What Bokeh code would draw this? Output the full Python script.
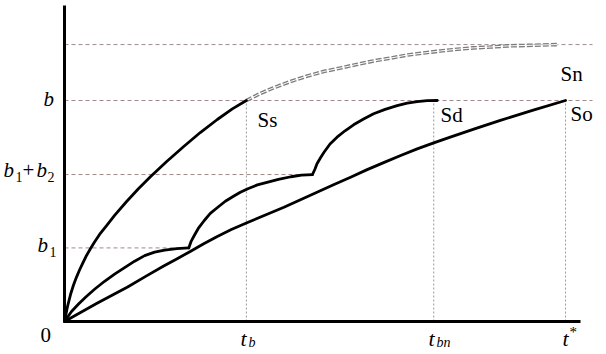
from bokeh.plotting import figure
from bokeh.models import Range1d
from bokeh.core.properties import value
from bokeh.embed import file_html
from bokeh.resources import INLINE

# ---- data (t in units of t*, S in units of b) ----
t_b, t_bn, t_star = 0.363, 0.737, 1.0
b1, b12, b, s_n = 0.333, 0.665, 1.0, 1.253

ss_t = [0, 0.006, 0.012, 0.018, 0.024, 0.030, 0.036, 0.044, 0.052, 0.060, 0.070, 0.084,
        0.100, 0.124, 0.148, 0.172, 0.204, 0.238, 0.271, 0.305, 0.335, 0.363]
ss_s = [0, 0.068, 0.122, 0.165, 0.201, 0.233, 0.262, 0.299, 0.330, 0.360, 0.394, 0.434,
        0.480, 0.543, 0.602, 0.656, 0.724, 0.792, 0.855, 0.914, 0.962, 1.0]

sd1_t = [0, 0.014, 0.028, 0.042, 0.060, 0.080, 0.100, 0.120, 0.140, 0.160, 0.180, 0.200, 0.224, 0.248]
sd1_s = [0, 0.045, 0.079, 0.110, 0.146, 0.182, 0.214, 0.244, 0.273, 0.298, 0.314, 0.323, 0.330, 0.333]
sd2_t = [0.248, 0.253, 0.259, 0.267, 0.279, 0.291, 0.306, 0.321, 0.339, 0.351, 0.366,
         0.385, 0.406, 0.427, 0.452, 0.473, 0.495]
sd2_s = [0.333, 0.364, 0.389, 0.421, 0.457, 0.489, 0.517, 0.544, 0.569, 0.585, 0.601,
         0.618, 0.631, 0.643, 0.655, 0.662, 0.665]
sd3_t = [0.495, 0.500, 0.504, 0.511, 0.518, 0.530, 0.544, 0.560, 0.577, 0.597, 0.617,
         0.640, 0.664, 0.684, 0.704, 0.724, 0.744]
sd3_s = [0.665, 0.690, 0.714, 0.741, 0.766, 0.803, 0.834, 0.863, 0.890, 0.916, 0.940,
         0.960, 0.977, 0.988, 0.995, 0.999, 1.0]

so_t = [0, 0.032, 0.064, 0.094, 0.126, 0.162, 0.198, 0.224, 0.251, 0.277, 0.305, 0.333,
        0.363, 0.401, 0.438, 0.471, 0.504, 0.537, 0.571, 0.603, 0.637, 0.671, 0.704,
        0.737, 0.770, 0.820, 0.870, 0.934, 1.0]
so_s = [0, 0.041, 0.081, 0.118, 0.156, 0.204, 0.251, 0.283, 0.317, 0.351, 0.385, 0.416,
        0.446, 0.482, 0.517, 0.551, 0.585, 0.619, 0.653, 0.686, 0.719, 0.751, 0.781,
        0.808, 0.834, 0.873, 0.910, 0.955, 1.0]

sn_t = [0.363, 0.391, 0.417, 0.451, 0.485, 0.517, 0.551, 0.583, 0.617, 0.651, 0.685,
        0.717, 0.750, 0.784, 0.816, 0.850, 0.884, 0.934, 0.984]
sn_s = [1.0, 1.032, 1.057, 1.086, 1.111, 1.131, 1.147, 1.163, 1.179, 1.192, 1.206,
        1.215, 1.224, 1.232, 1.238, 1.242, 1.247, 1.250, 1.253]

W, H = 606, 354
OX, OY, PX_T, PX_S = 64, 321, 501, 221   # origin pixel and scale


def X(px):
    return (px - OX) / PX_T


def Y(py):
    return (OY - py) / PX_S


p = figure(width=W, height=H, output_backend="svg", toolbar_location=None,
           x_axis_location=None, y_axis_location=None, min_border=0,
           x_range=Range1d(X(0), X(W)), y_range=Range1d(Y(H), Y(0)))
p.grid.visible = False
p.outline_line_color = None
p.background_fill_color = "white"
p.border_fill_color = "white"

ref_h = "#a08a8a"
ref_v = "#9a9a9a"
# horizontal reference lines
p.segment(x0=[0, 0, 0, 0], y0=[s_n, b, b12, b1],
          x1=[X(592), X(592), sd2_t[-1], sd1_t[-1]], y1=[s_n, b, b12, b1],
          line_color=ref_h, line_width=1, line_dash="4 3")
# vertical reference lines
p.segment(x0=[t_b, t_bn, t_star], y0=[0, 0, 0],
          x1=[t_b, t_bn, t_star], y1=[b, b, b],
          line_color=ref_v, line_width=1, line_dash="2 2")

# axes
p.segment(x0=[0, 0], y0=[0, 0], x1=[0, X(580)], y1=[Y(5), 0],
          line_color="black", line_width=3)

# Sn double dashed line
p.line(sn_t, sn_s, line_color="#7c7c7c", line_width=3.6, line_dash="6 2")
p.line(sn_t, sn_s, line_color="white", line_width=1.0)

lw = 2.8
for xs, ys in [(ss_t, ss_s), (sd1_t, sd1_s), (sd2_t, sd2_s), (sd3_t, sd3_s), (so_t, so_s)]:
    p.line(xs, ys, line_color="black", line_width=lw, line_join="round", line_cap="round")

FONT = value("Liberation Serif")


def txt(px_list, py_list, texts, size, style="normal"):
    # py given as the visual middle of the text
    p.text(x=[X(v) for v in px_list], y=[Y(v) for v in py_list], text=texts,
           text_font=FONT, text_font_size=size, text_font_style=style,
           text_baseline="middle", text_align="left", text_color="black")


# y labels
txt([43, 3, 36, 37], [98, 169, 169, 244], ["b", "b", "b", "b"], "21px", "italic")
txt([15, 47, 49], [176, 176, 251], ["1", "2", "1"], "14px")
txt([22], [169], ["+"], "21px")
txt([40], [334], ["0"], "21px")
# x labels
txt([240, 428, 562], [338, 338, 338], ["t", "t", "t"], "22px", "italic")
txt([248, 436], [342, 342], ["b", "bn"], "14px", "italic")
txt([569], [331], ["*"], "15px")
# curve labels
txt([257, 440, 570, 560], [119, 114, 113, 73], ["Ss", "Sd", "So", "Sn"], "21px")

open("out.html", "w").write(file_html(p, INLINE))
